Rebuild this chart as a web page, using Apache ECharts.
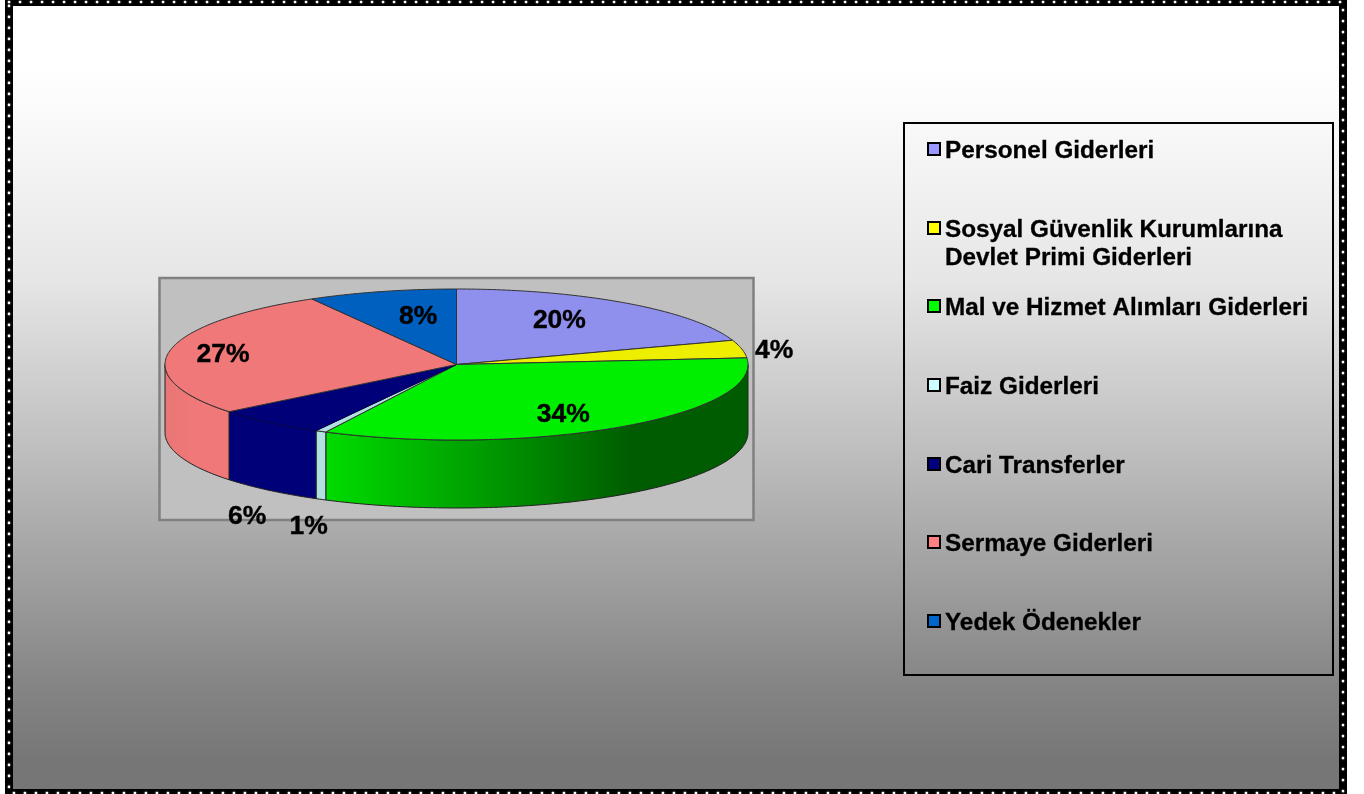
<!DOCTYPE html>
<html><head><meta charset="utf-8">
<style>html,body{margin:0;padding:0;background:#fff}#c{width:1364px;height:794px}</style>
<script src="https://cdn.jsdelivr.net/npm/echarts@6/dist/echarts.min.js"></script>
</head><body><div id="c"></div>
<script>
// DATA
const categories = ['Personel Giderleri','Sosyal Güvenlik Kurumlarına\nDevlet Primi Giderleri','Mal ve Hizmet Alımları Giderleri','Faiz Giderleri','Cari Transferler','Sermaye Giderleri','Yedek Ödenekler'];
const shares = [19.8, 3.8, 33.8, 0.6, 6.25, 27.49, 8.26];
// STYLE / LAYOUT
const topColors = ['#8f8fee','#eeee00','#00ee00','#b0e0e0','#000078','#f07878','#0060c0'];
const legendColors = ['#9999ff','#ffff00','#00ff00','#ccffff','#000080','#ff8080','#0066cc'];
const labelOffsets = [[-16,-1],[118,-3],[-8,6],[-53,115],[-78,112],[-33,0],[14,3]];
const cx=456.5, cy=364.5, rx=291.5, ry=75.5, depth=68;
const total = shares.reduce((a,b)=>a+b,0);
const starts=[]; shares.reduce((s,v,i)=>{starts[i]=s;return s+v;},0);
const ang = p => p/total*360;
const pt = (deg,dy=0,f=1)=>{const t=deg*Math.PI/180;return [cx+rx*f*Math.sin(t), cy-ry*f*Math.cos(t)+dy];};
const FONT='"Liberation Sans",Arial,sans-serif';
function arc(a,b,dy){const n=Math.max(2,Math.ceil(Math.abs(b-a)));const o=[];for(let i=0;i<=n;i++)o.push(pt(a+(b-a)*i/n,dy));return o;}
function sideFill(i){
  if(i===2) return new echarts.graphic.LinearGradient(325,0,749,0,[
    {offset:0,color:'#00dc00'},{offset:0.35,color:'#00a000'},{offset:0.72,color:'#005c00'},{offset:1,color:'#005c00'}],true);
  if(i===5) return new echarts.graphic.LinearGradient(165,0,229,0,[
    {offset:0,color:'#e97676'},{offset:0.5,color:'#f07878'},{offset:1,color:'#f07878'}],true);
  return topColors[i];
}
function renderSlice(params,api){
  const i=params.dataIndex, v=api.value(0);
  const a=ang(starts[i]), b=a+ang(v);
  const kids=[];
  const sa=Math.max(a,90), sb=Math.min(b,270);
  if(sb>sa){
    const up=arc(sa,sb,0), down=arc(sa,sb,depth).reverse();
    kids.push({type:'polygon',shape:{points:up.concat(down)},
      style:{fill:sideFill(i),stroke:'#222',lineWidth:1,lineJoin:'round'}});
  }
  kids.push({type:'polygon',shape:{points:[[cx,cy]].concat(arc(a,b,0))},
    style:{fill:topColors[i],stroke:i===4?'#000050':'#333',lineWidth:1,lineJoin:'round'}});
  const m=pt((a+b)/2,0,0.7), off=labelOffsets[i];
  kids.push({type:'text',z2:50,style:{x:m[0]+off[0],y:m[1]+off[1],text:Math.round(v)+'%',
    fill:'#000',stroke:'#000',lineWidth:0.4,font:'bold 26.5px '+FONT,align:'center',verticalAlign:'middle'}});
  return {type:'group',children:kids};
}
const legendY=[150,229,307,386,465,543,622];
const graphic=[
  {type:'rect',z:0,shape:{x:0,y:0,width:1364,height:794},style:{fill:'#fff'}},
  {type:'rect',z:0,shape:{x:9,y:2,width:1334,height:792},style:{fill:new echarts.graphic.LinearGradient(0,0,0,1,[
    {offset:0,color:'#ffffff'},{offset:0.08,color:'#ffffff'},{offset:0.13,color:'#fbfbfb'},{offset:0.35,color:'#e6e6e6'},
    {offset:0.6,color:'#b8b8b8'},{offset:0.86,color:'#858585'},{offset:0.96,color:'#767676'},{offset:1,color:'#767676'}])}},
  {type:'rect',z:1,shape:{x:159.5,y:278,width:594,height:242},style:{fill:'#c0c0c0',stroke:'#808080',lineWidth:2.5}},
  {type:'rect',z:1,shape:{x:904,y:123,width:429,height:552},style:{fill:'transparent',stroke:'#000',lineWidth:2}},
  {type:'rect',z:1,shape:{x:9,y:2,width:1334,height:791},style:{fill:'transparent',stroke:'#000',lineWidth:8}},
  {type:'rect',z:1,shape:{x:9,y:2,width:1334,height:791},style:{fill:'transparent',stroke:'#fff',lineWidth:2.6,lineCap:'round',lineDash:[0.1,10.9],shadowBlur:2,shadowColor:'#888'}}
];
categories.forEach((c,i)=>{
  graphic.push({type:'rect',z:2,shape:{x:928,y:legendY[i]-7,width:12,height:12},style:{fill:legendColors[i],stroke:'#000',lineWidth:2}});
  graphic.push({type:'text',z:2,style:{x:945,y:legendY[i]-12.5,text:c,fill:'#000',stroke:'#000',lineWidth:0.3,font:'bold 24.3px '+FONT,lineHeight:28,align:'left',verticalAlign:'top'}});
});
const chart=echarts.init(document.getElementById('c'),null,{renderer:'canvas'});
chart.setOption({
  animation:false,
  graphic:{elements:graphic},
  series:[{type:'custom',coordinateSystem:'none',z:5,renderItem:renderSlice,
    data:shares.map((v,i)=>({name:categories[i],value:[v]}))}]
});
</script></body></html>
